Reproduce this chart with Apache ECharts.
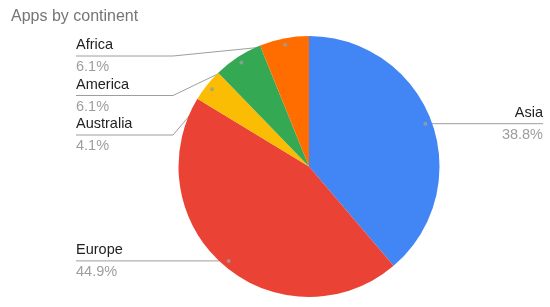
<!DOCTYPE html>
<html><head><meta charset="utf-8">
<script src="https://cdn.jsdelivr.net/npm/echarts@6/dist/echarts.min.js"></script>
<style>html,body{margin:0;padding:0;background:#fff}#c{width:550px;height:307px}</style>
</head><body><div id="c"></div>
<script>
const titleText = 'Apps by continent';
const categories = ['Asia', 'Europe', 'Australia', 'America', 'Africa'];
const values = [19, 22, 2, 3, 3];
const colors = ['#4285F4', '#EA4335', '#FBBC04', '#34A853', '#FF6D01'];

const FONT = '"Liberation Sans", Arial, sans-serif';
const CX = 309, CY = 166.5, R = 130.5;
const DOT_R = 0.95;
const LEFT_X = 76, RIGHT_X = 543;
const total = values.reduce((a, b) => a + b, 0);
let cum = 0;
const mids = values.map(v => { const m = cum + v / 2; cum += v; return m; });
const dots = mids.map(m => {
  const a = m / total * 2 * Math.PI;
  return [CX + Math.sin(a) * R * DOT_R, CY - Math.cos(a) * R * DOT_R];
});
const GAP = 39.5, TOPY = 56;
const labelY = new Array(values.length);
['L', 'R'].forEach(side => {
  const idx = dots.map((d, i) => i)
    .filter(i => side === 'L' ? dots[i][0] < CX : dots[i][0] >= CX)
    .sort((a, b) => dots[a][1] - dots[b][1]);
  let prev = -Infinity;
  idx.forEach(i => { const y = Math.max(dots[i][1], TOPY, prev + GAP); labelY[i] = y; prev = y; });
});

const chart = echarts.init(document.getElementById('c'), null, { renderer: 'canvas' });
chart.setOption({
  animation: false,
  backgroundColor: '#fff',
  title: {
    text: titleText, left: 6, top: 4,
    textStyle: { color: '#757575', fontSize: 16, fontWeight: 'normal', fontFamily: FONT }
  },
  polar: { center: [CX, CY], radius: R },
  angleAxis: { type: 'value', min: 0, max: total, startAngle: 90, clockwise: true, show: false },
  radiusAxis: { type: 'value', min: 0, max: 1, show: false },
  series: [
    {
      type: 'pie',
      center: [CX, CY],
      radius: R,
      startAngle: 90,
      clockwise: true,
      percentPrecision: 1,
      avoidLabelOverlap: false,
      emphasis: { disabled: true },
      itemStyle: { borderWidth: 0 },
      data: categories.map((c, i) => ({ name: c, value: values[i], itemStyle: { color: colors[i] } })),
      label: {
        show: true,
        position: 'outside',
        formatter: '{n|{b}}\n{p|{d}%}',
        rich: {
          n: { color: '#222222', fontSize: 14.5, lineHeight: 22, fontFamily: FONT },
          p: { color: '#9e9e9e', fontSize: 14.5, lineHeight: 22, fontFamily: FONT }
        }
      },
      labelLine: { show: true, length: 10, length2: 10, lineStyle: { color: '#9e9e9e', width: 1 } },
      labelLayout: function (p) {
        const i = p.dataIndex;
        const left = dots[i][0] < CX;
        const y = labelY[i];
        const ex = left ? CX - R - 5.5 : CX + R + 5.5;
        const endX = left ? LEFT_X : RIGHT_X;
        return {
          x: endX, y: y,
          align: left ? 'left' : 'right',
          verticalAlign: 'middle',
          labelLinePoints: [dots[i].slice(), [ex, y], [endX, y]]
        };
      }
    },
    {
      type: 'scatter',
      coordinateSystem: 'polar',
      silent: true,
      z: 5,
      symbolSize: 4,
      itemStyle: { color: '#9e9e9e' },
      data: mids.map(m => [DOT_R, m])
    }
  ]
});
</script>
</body></html>
